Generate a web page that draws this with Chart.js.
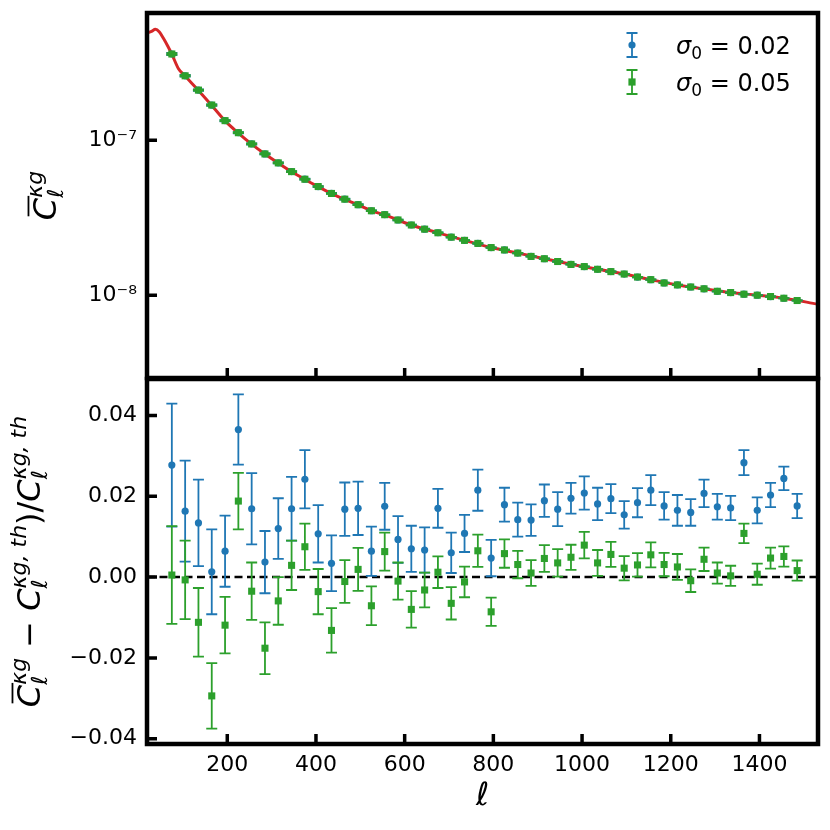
<!DOCTYPE html>
<html>
<head>
<meta charset="utf-8">
<script src="https://cdn.jsdelivr.net/npm/chart.js@4.4.1/dist/chart.umd.min.js"></script>
<style>
  html, body { margin: 0; padding: 0; background: #fff; }
  #wrap { position: relative; width: 830px; height: 830px; overflow: hidden; }
  canvas { position: absolute; left: 0; }
</style>
</head>
<body>
<div id="wrap">
  <canvas id="top" width="830" height="383" style="top:0px"></canvas>
  <canvas id="bottom" width="830" height="460" style="top:370px"></canvas>
</div>
<script>
// multipole bin centres
const ell = [75,105,135,165,195,225,255,285,315,345,375,405,435,465,495,525,555,585,615,645,
  675,705,735,765,795,825,855,885,915,945,975,1005,1035,1065,1095,1125,1155,1185,1215,1245,
  1275,1305,1335,1365,1395,1425,1455,1485];

// measured spectrum (top panel, both samples sit on top of each other)
const clMeasured = [3.61e-7,2.61e-7,2.11e-7,1.69e-7,1.34e-7,1.12e-7,9.48e-8,8.17e-8,7.15e-8,6.28e-8,
  5.61e-8,5.03e-8,4.54e-8,4.17e-8,3.84e-8,3.51e-8,3.31e-8,3.06e-8,2.84e-8,2.67e-8,
  2.53e-8,2.37e-8,2.26e-8,2.16e-8,2.03e-8,1.96e-8,1.87e-8,1.78e-8,1.72e-8,1.65e-8,
  1.58e-8,1.53e-8,1.47e-8,1.42e-8,1.37e-8,1.31e-8,1.26e-8,1.20e-8,1.165e-8,1.13e-8,
  1.10e-8,1.06e-8,1.04e-8,1.015e-8,1.00e-8,9.80e-9,9.56e-9,9.24e-9];

// theory curve
const ellTh = [20,29,38,47,56,66,75,90,105,135,165,195,225,255,285,315,345,375,405,435,465,495,
  525,555,615,675,735,795,855,915,975,1035,1095,1155,1215,1275,1335,1395,1455,1532];
const clTh = [4.95e-7,5.05e-7,5.21e-7,5.0e-7,4.56e-7,4.05e-7,3.60e-7,2.90e-7,2.60e-7,2.10e-7,
  1.68e-7,1.335e-7,1.115e-7,9.45e-8,8.15e-8,7.12e-8,6.26e-8,5.59e-8,5.02e-8,4.53e-8,4.16e-8,
  3.83e-8,3.51e-8,3.30e-8,2.84e-8,2.53e-8,2.26e-8,2.03e-8,1.87e-8,1.72e-8,1.585e-8,1.47e-8,
  1.37e-8,1.26e-8,1.165e-8,1.10e-8,1.04e-8,1.00e-8,9.56e-9,8.75e-9];

// relative residuals and errors, sigma0 = 0.02
const resBlue = [0.0277,0.0163,0.0134,0.0013,0.0064,0.0365,0.0169,0.0037,0.0120,0.0169,
  0.0242,0.0107,0.0034,0.0168,0.0170,0.0064,0.0175,0.0093,0.0070,0.0067,
  0.0170,0.0060,0.0108,0.0215,0.0047,0.0179,0.0142,0.0141,0.0189,0.0168,
  0.0195,0.0208,0.0181,0.0194,0.0154,0.0184,0.0215,0.0176,0.0165,0.0160,
  0.0207,0.0174,0.0171,0.0283,0.0165,0.0203,0.0244,0.0176];
const errBlue = [0.0152,0.0125,0.0107,0.0105,0.0088,0.0087,0.0088,0.0077,0.0075,0.0079,
  0.0072,0.0071,0.0069,0.0066,0.0066,0.0061,0.0058,0.0058,0.0057,0.0056,
  0.0048,0.0050,0.0046,0.0051,0.0045,0.0042,0.0042,0.0039,0.0040,0.0042,
  0.0038,0.0041,0.0040,0.0036,0.0034,0.0036,0.0037,0.0034,0.0038,0.0033,
  0.0034,0.0032,0.0030,0.0031,0.0032,0.0030,0.0029,0.0030];

// sigma0 = 0.05
const resGreen = [0.0005,-0.0007,-0.0112,-0.0294,-0.0119,0.0188,-0.0035,-0.0176,-0.0059,0.0029,
  0.0075,-0.0036,-0.0132,-0.0011,0.0019,-0.0071,0.0063,-0.0010,-0.0080,-0.0032,
  0.0012,-0.0065,-0.0012,0.0065,-0.0086,0.0058,0.0031,0.0010,0.0046,0.0035,
  0.0049,0.0079,0.0035,0.0056,0.0022,0.0030,0.0055,0.0031,0.0025,-0.0009,
  0.0044,0.0010,0.0003,0.0108,0.0007,0.0047,0.0051,0.0016];
const errGreen = [0.0121,0.0097,0.0085,0.0081,0.0070,0.0070,0.0071,0.0064,0.0059,0.0061,
  0.0057,0.0056,0.0055,0.0053,0.0053,0.0048,0.0047,0.0046,0.0045,0.0043,
  0.0039,0.0040,0.0038,0.0040,0.0035,0.0035,0.0034,0.0032,0.0033,0.0034,
  0.0031,0.0033,0.0032,0.0031,0.0030,0.0029,0.0031,0.0029,0.0032,0.0028,
  0.0029,0.0026,0.0025,0.0024,0.0026,0.0026,0.0025,0.0025];

const seriesLabels = ['0.02', '0.05'];

// axes
const xMin = 19, xMax = 1532;
const xTicks = [200, 400, 600, 800, 1000, 1200, 1400];
const xTickLabels = ['200', '400', '600', '800', '1000', '1200', '1400'];
const topMin = 2.92e-9, topMax = 6.64e-7;
const topTicks = [1e-8, 1e-7];
const topTickLabels = ['10\u207B\u2078', '10\u207B\u2077'];
const botMin = -0.0413, botMax = 0.049;
const botTicks = [-0.04, -0.02, 0, 0.02, 0.04];
const botTickLabels = ['\u22120.04', '\u22120.02', '0.00', '0.02', '0.04'];

const BLUE = '#1f77b4', GREEN = '#2ca02c', RED = '#d62728';
const FONT = 'DejaVu Sans';

// error bars drawn under each dataset's markers
const errorBars = {
  id: 'errorBars',
  beforeDatasetDraw(chart, args) {
    const ds = chart.data.datasets[args.index];
    if (!ds.errors) return;
    const {ctx, chartArea: a} = chart;
    const xs = chart.scales.x, ys = chart.scales.y;
    ctx.save();
    ctx.beginPath();
    ctx.rect(a.left, a.top, a.right - a.left, a.bottom - a.top);
    ctx.clip();
    ctx.strokeStyle = ds.backgroundColor;
    ctx.lineWidth = 1.8;
    ctx.beginPath();
    ds.data.forEach((p, i) => {
      const e = ds.errors[i];
      const lo = ds.relErr ? p.y * (1 - e) : p.y - e;
      const hi = ds.relErr ? p.y * (1 + e) : p.y + e;
      const px = xs.getPixelForValue(p.x);
      const y1 = ys.getPixelForValue(lo), y2 = ys.getPixelForValue(hi);
      ctx.moveTo(px, y1); ctx.lineTo(px, y2);
      ctx.moveTo(px - 5.5, y1); ctx.lineTo(px + 5.5, y1);
      ctx.moveTo(px - 5.5, y2); ctx.lineTo(px + 5.5, y2);
    });
    ctx.stroke();
    ctx.restore();
  }
};

// thick box and inward ticks
const frame = {
  id: 'frame',
  afterDraw(chart, args, opts) {
    const {ctx, chartArea: a} = chart;
    const xs = chart.scales.x, ys = chart.scales.y;
    ctx.save();
    ctx.strokeStyle = '#000';
    ctx.lineWidth = 3.5;
    ctx.beginPath();
    xTicks.forEach(v => {
      const px = xs.getPixelForValue(v);
      ctx.moveTo(px, a.bottom); ctx.lineTo(px, a.bottom - 10);
    });
    opts.yTicks.forEach(v => {
      const py = ys.getPixelForValue(v);
      ctx.moveTo(a.left, py); ctx.lineTo(a.left + 10, py);
    });
    ctx.stroke();
    ctx.lineWidth = 4.5;
    ctx.strokeRect(a.left, a.top, a.right - a.left, a.bottom - a.top);
    ctx.restore();
  }
};

// small math-text helper: parts laid out along a baseline
function fontOf(p) {
  return (p.it ? 'italic ' : '') + p.s + 'px "' + FONT + '"';
}
function drawMath(ctx, parts, cx, cy, rot, align) {
  ctx.save();
  ctx.translate(cx, cy);
  ctx.rotate(rot || 0);
  ctx.textBaseline = 'alphabetic';
  ctx.textAlign = 'left';
  // measure
  let total = 0, i = 0;
  const pos = [];
  while (i < parts.length) {
    ctx.font = fontOf(parts[i]);
    let w = ctx.measureText(parts[i].t).width;
    pos[i] = total;
    if (parts[i].st && i + 1 < parts.length) {
      ctx.font = fontOf(parts[i + 1]);
      const w2 = ctx.measureText(parts[i + 1].t).width;
      pos[i + 1] = total + (parts[i + 1].sh || 0);
      w = Math.max(w, w2 + (parts[i + 1].sh || 0));
      i += 2;
    } else {
      i += 1;
    }
    total += w;
  }
  const x0 = align === 'left' ? 0 : -total / 2;
  ctx.fillStyle = '#000';
  ctx.strokeStyle = '#000';
  parts.forEach((p, k) => {
    ctx.font = fontOf(p);
    const x = x0 + pos[k] + (p.dx || 0);
    ctx.fillText(p.t, x, p.dy || 0);
    if (p.ov) {
      const w = ctx.measureText(p.t).width;
      ctx.lineWidth = 1.8;
      ctx.beginPath();
      ctx.moveTo(x + p.s * 0.12, -p.s * 0.86);
      ctx.lineTo(x + w + p.s * 0.06, -p.s * 0.86);
      ctx.stroke();
    }
  });
  ctx.restore();
}

const topLabelParts = [
  {t: 'C', s: 32, it: true, ov: true},
  {t: '\u03BAg', s: 22, it: true, dy: -14, st: true},
  {t: '\u2113', s: 22, it: true, dy: 7}
];
const botLabelParts = [
  {t: 'C', s: 32, it: true, ov: true},
  {t: '\u03BAg', s: 22, it: true, dy: -14, st: true},
  {t: '\u2113', s: 22, it: true, dy: 7},
  {t: ' \u2212 ', s: 32},
  {t: 'C', s: 32, it: true},
  {t: '\u03BAg, th', s: 22, it: true, dy: -14, st: true},
  {t: '\u2113', s: 22, it: true, dy: 7},
  {t: ')/', s: 32},
  {t: 'C', s: 32, it: true},
  {t: '\u03BAg, th', s: 22, it: true, dy: -14, st: true},
  {t: '\u2113', s: 22, it: true, dy: 7}
];

const topDecor = {
  id: 'topDecor',
  afterDraw(chart) {
    const {ctx, chartArea: a} = chart;
    drawMath(ctx, topLabelParts, 56, (a.top + a.bottom) / 2, -Math.PI / 2);
    // legend
    const rows = [{c: BLUE, shape: 'circle', y: 45}, {c: GREEN, shape: 'rect', y: 82}];
    rows.forEach((r, k) => {
      const x = 632;
      ctx.save();
      ctx.strokeStyle = r.c; ctx.fillStyle = r.c; ctx.lineWidth = 1.8;
      ctx.beginPath();
      ctx.moveTo(x, r.y - 12); ctx.lineTo(x, r.y + 12);
      ctx.moveTo(x - 5.5, r.y - 12); ctx.lineTo(x + 5.5, r.y - 12);
      ctx.moveTo(x - 5.5, r.y + 12); ctx.lineTo(x + 5.5, r.y + 12);
      ctx.stroke();
      ctx.beginPath();
      if (r.shape === 'circle') ctx.arc(x, r.y, 3.6, 0, Math.PI * 2);
      else ctx.rect(x - 3.6, r.y - 3.6, 7.2, 7.2);
      ctx.fill();
      ctx.restore();
      drawMath(ctx, [
        {t: '\u03C3', s: 24, it: true},
        {t: '0', s: 17, dy: 5},
        {t: ' = ' + seriesLabels[k], s: 24}
      ], 676, r.y + 9, 0, 'left');
    });
  }
};

const botDecor = {
  id: 'botDecor',
  beforeDatasetsDraw(chart) {
    const {ctx, chartArea: a} = chart;
    const py = chart.scales.y.getPixelForValue(0);
    ctx.save();
    ctx.strokeStyle = '#000'; ctx.lineWidth = 2.6;
    ctx.setLineDash([8, 4.5]);
    ctx.beginPath(); ctx.moveTo(a.left, py); ctx.lineTo(a.right, py); ctx.stroke();
    ctx.restore();
  },
  afterDraw(chart) {
    const {ctx, chartArea: a} = chart;
    drawMath(ctx, botLabelParts, 40, (a.top + a.bottom) / 2, -Math.PI / 2);
    drawMath(ctx, [{t: '\u2113', s: 32, it: true}], (a.left + a.right) / 2, 435, 0);
  }
};

const pts = vals => ell.map((x, i) => ({x, y: vals[i]}));

function xScale(showLabels, h) {
  return {
    type: 'linear', min: xMin, max: xMax,
    afterBuildTicks: s => { s.ticks = xTicks.map(v => ({value: v})); },
    afterFit: s => { s.height = h; s.paddingLeft = 0; s.paddingRight = 0; },
    grid: {display: false, drawTicks: false}, border: {display: false},
    ticks: {display: showLabels, padding: 8, color: '#000', font: {family: FONT, size: 22},
      callback: (v, i) => xTickLabels[i]}
  };
}

const common = {
  responsive: false, animation: false, events: [],
  devicePixelRatio: 1,
  plugins: {legend: {display: false}, tooltip: {enabled: false}}
};

new Chart(document.getElementById('top'), {
  type: 'scatter',
  data: {
    datasets: [
      {data: ellTh.map((x, i) => ({x, y: clTh[i]})), showLine: true, borderColor: RED, borderWidth: 3,
        pointRadius: 0, cubicInterpolationMode: 'monotone', order: 3},
      {data: pts(clMeasured), errors: errBlue, relErr: true, pointStyle: 'circle', pointRadius: 3.6,
        backgroundColor: BLUE, borderWidth: 0, order: 2},
      {data: pts(clMeasured), errors: errGreen, relErr: true, pointStyle: 'rect', pointRadius: 5,
        backgroundColor: GREEN, borderWidth: 0, order: 1}
    ]
  },
  options: Object.assign({}, common, {
    layout: {padding: {top: 13, right: 12, bottom: 4, left: 0}},
    scales: {
      x: xScale(false, 0),
      y: {
        type: 'logarithmic', min: topMin, max: topMax,
        afterBuildTicks: s => { s.ticks = topTicks.map(v => ({value: v})); },
        afterFit: s => { s.width = 147; s.paddingTop = 0; s.paddingBottom = 0; },
        grid: {display: false, drawTicks: false}, border: {display: false},
        ticks: {padding: 10, color: '#000', font: {family: FONT, size: 22},
          callback: (v, i) => topTickLabels[i]}
      }
    },
    plugins: Object.assign({}, common.plugins, {frame: {yTicks: topTicks}})
  }),
  plugins: [errorBars, frame, topDecor]
});

new Chart(document.getElementById('bottom'), {
  type: 'scatter',
  data: {
    datasets: [
      {data: pts(resBlue), errors: errBlue, pointStyle: 'circle', pointRadius: 3.6,
        backgroundColor: BLUE, borderWidth: 0, order: 2},
      {data: pts(resGreen), errors: errGreen, pointStyle: 'rect', pointRadius: 5,
        backgroundColor: GREEN, borderWidth: 0, order: 1}
    ]
  },
  options: Object.assign({}, common, {
    layout: {padding: {top: 9, right: 12, bottom: 0, left: 0}},
    scales: {
      x: xScale(true, 86),
      y: {
        type: 'linear', min: botMin, max: botMax,
        afterBuildTicks: s => { s.ticks = botTicks.map(v => ({value: v})); },
        afterFit: s => { s.width = 147; s.paddingTop = 0; s.paddingBottom = 0; },
        grid: {display: false, drawTicks: false}, border: {display: false},
        ticks: {padding: 10, color: '#000', font: {family: FONT, size: 22},
          callback: (v, i) => botTickLabels[i]}
      }
    },
    plugins: Object.assign({}, common.plugins, {frame: {yTicks: botTicks}})
  }),
  plugins: [errorBars, frame, botDecor]
});
</script>
</body>
</html>
